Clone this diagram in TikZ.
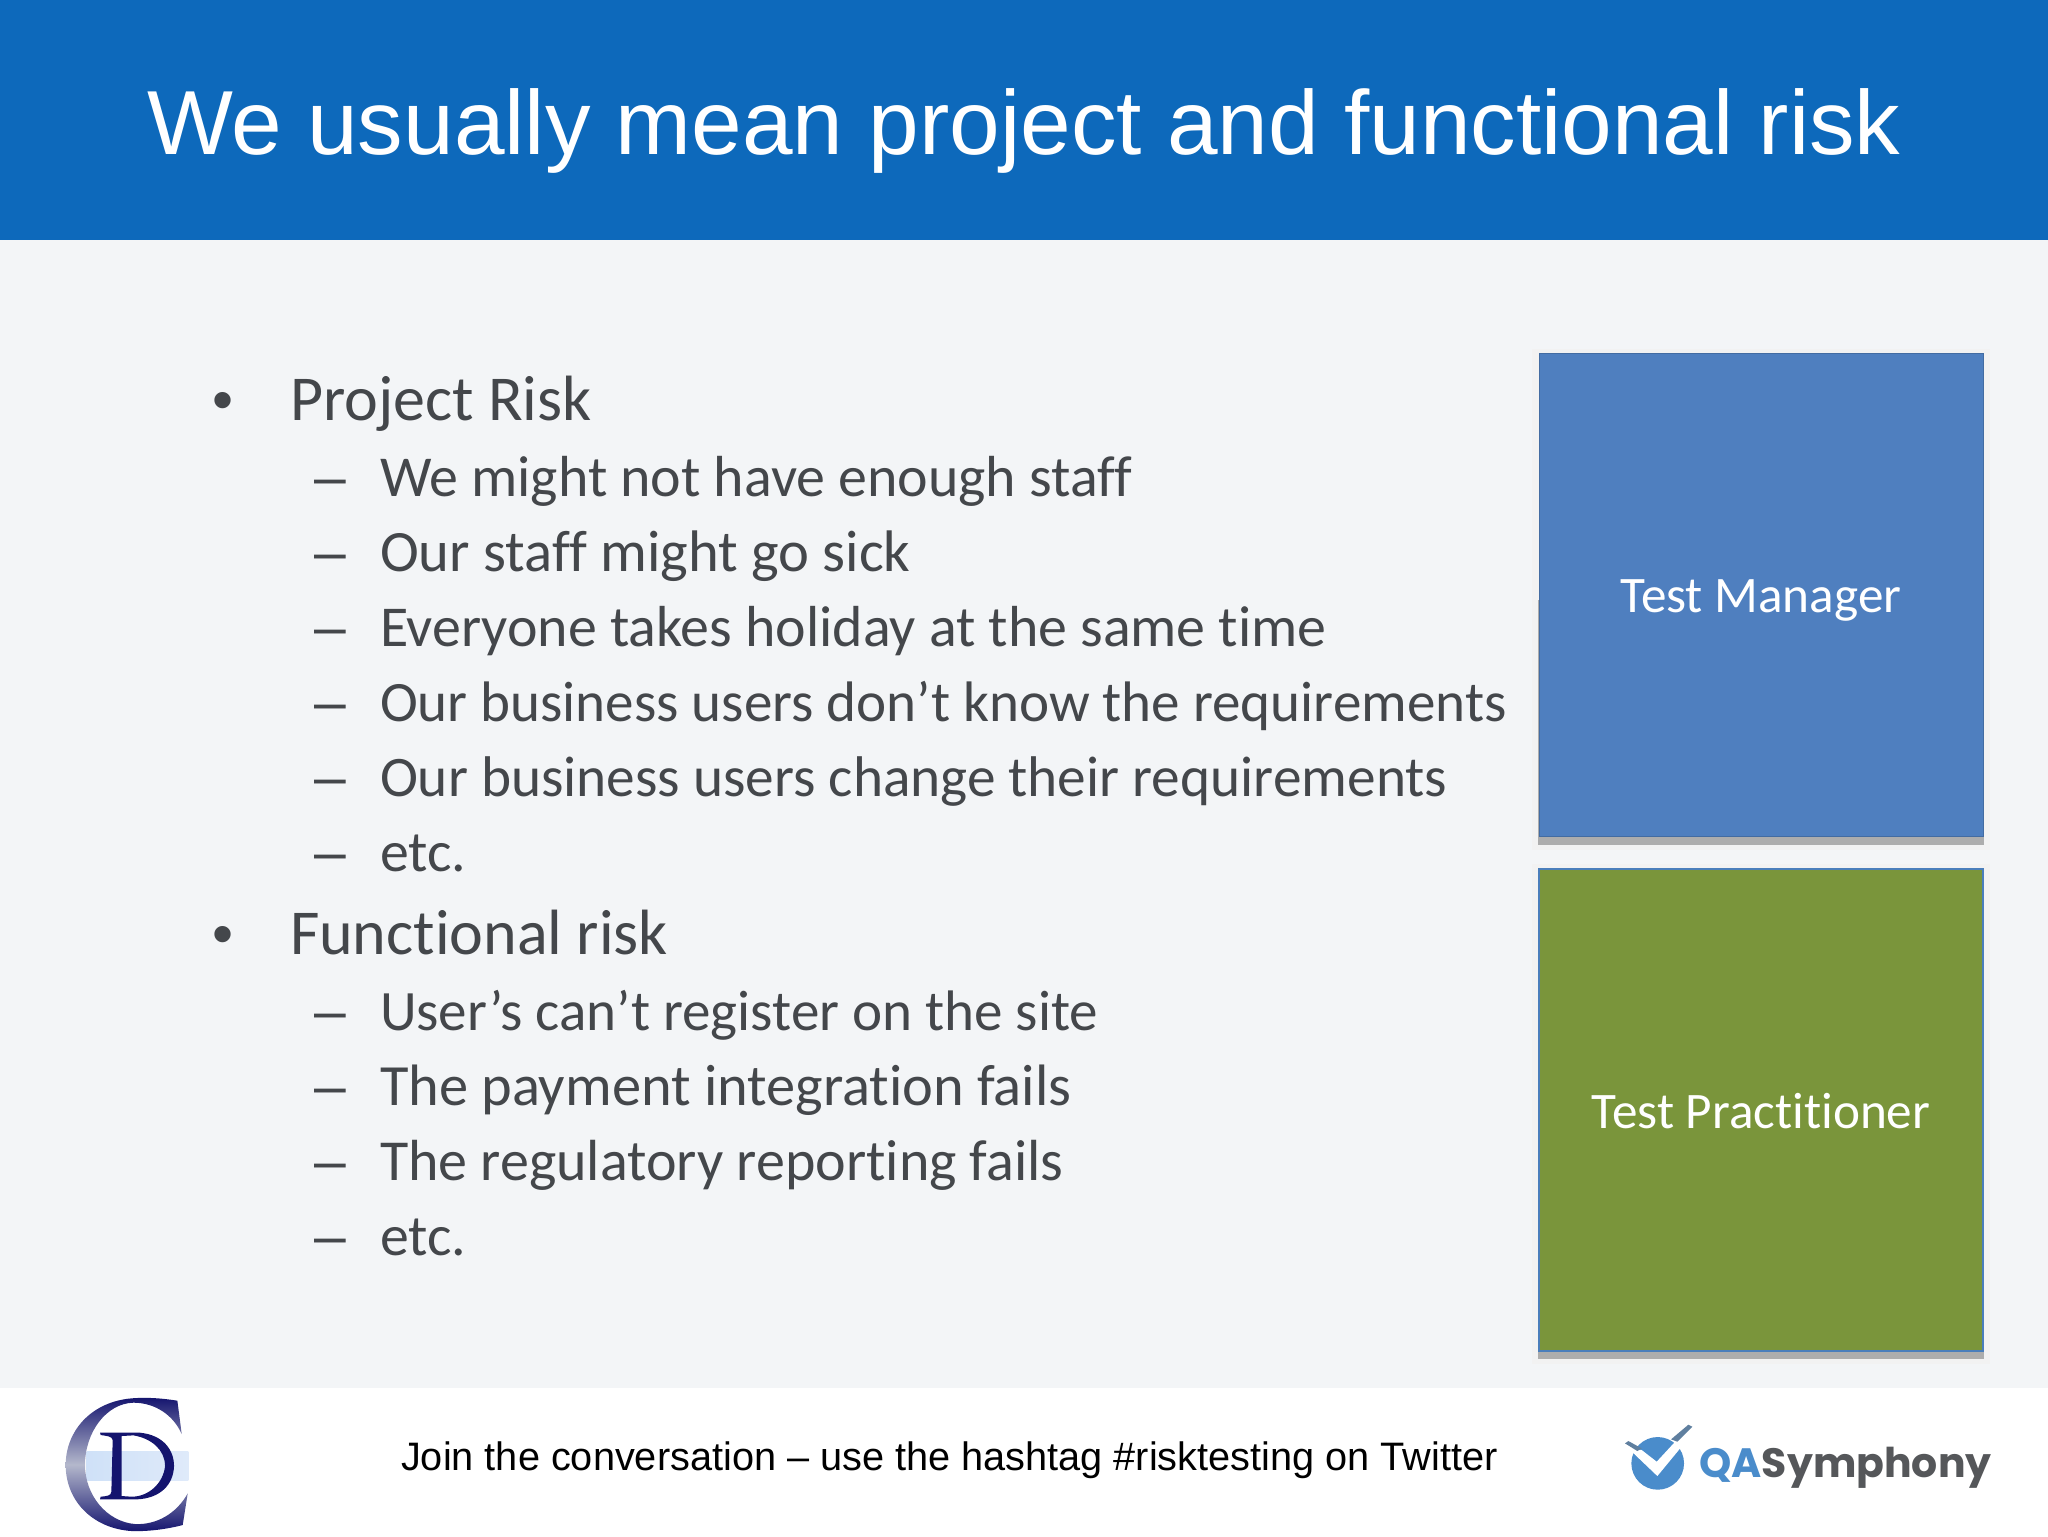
\documentclass[tikz,border=0pt]{standalone}
\usepackage{fontspec}
\setmainfont[Ligatures=NoCommon]{Carlito}
\newfontfamily\arialf{Liberation Sans}
\newfontfamily\logof{Poppins}
\definecolor{headblue}{HTML}{0D69BB}
\definecolor{pagebg}{HTML}{F3F5F7}
\definecolor{bodytxt}{HTML}{44474B}
\definecolor{mgrblue}{HTML}{4F7FBF}
\definecolor{pracgreen}{HTML}{7A953B}
\definecolor{edgeblue}{HTML}{4A7EBB}
\definecolor{navy}{HTML}{14146E}
\definecolor{silver}{HTML}{B4B8CC}
\definecolor{bandl}{HTML}{CFE1F8}
\definecolor{bandr}{HTML}{DFEAFA}
\definecolor{logoblue}{HTML}{4A8CCB}
\definecolor{logotick}{HTML}{5F7F9F}
\definecolor{logogrey}{HTML}{55575A}
\tikzset{
  lvlone/.style={anchor=base west,inner sep=0pt,outer sep=0pt,text=bodytxt,font=\fontsize{32}{36}\selectfont},
  lvltwo/.style={anchor=base west,inner sep=0pt,outer sep=0pt,text=bodytxt},
  markone/.style={anchor=base west,inner sep=0pt,outer sep=0pt,text=bodytxt,font=\arialf\fontsize{30}{36}\selectfont},
  marktwo/.style={anchor=base west,inner sep=0pt,outer sep=0pt,text=bodytxt,font=\arialf\fontsize{28.5}{34}\selectfont},
  rolebox/.style={inner sep=0pt,outer sep=0pt,text=white,font=\fontsize{25.6}{28}\selectfont,minimum width=222pt,text height=18pt,text depth=0pt},
  glow/.style={fill=black!5},
  castshadow/.style={fill=black!32},
}
\begin{document}
\begin{tikzpicture}[x=0.5pt,y=-0.5pt]
\useasboundingbox (0,0) rectangle (2048,1536);
\fill[white] (0,0) rectangle (2048,1536);
\fill[pagebg] (0,240) rectangle (2048,1388);
\fill[headblue] (0,0) rectangle (2048,240);
\node[anchor=base,inner sep=0pt,text=white,font=\arialf\fontsize{45.5}{54}\selectfont] (title) at (1024,155) {We usually mean project and functional risk};
% level one and two lines
\node[markone] (m1) at (212,420) {•};
\node[lvlone] (t1) at (290,420) {Project Risk};
\foreach \n/\yy/\fs/\tx in {a/496/28.95/We might not have enough staff,b/571/29.3/Our staff might go sick,c/646/28.93/Everyone takes holiday at the same time,d/721/28.55/Our business users don’t know the requirements,e/796/28.67/Our business users change their requirements,f/871/28.9/etc.}{
  \node[marktwo] (d\n) at (314,\yy) {–};
  \node[lvltwo] (s\n) at (380,\yy) {\fontsize{\fs}{34}\selectfont\tx};
}
\node[markone] (m2) at (212,954) {•};
\node[lvlone] (t2) at (290,954) {Functional risk};
\foreach \n/\yy/\fs/\tx in {g/1030/28.55/User’s can’t register on the site,h/1105/29.2/The payment integration fails,i/1180/29.0/The regulatory reporting fails,j/1255/28.9/etc.}{
  \node[marktwo] (d\n) at (314,\yy) {–};
  \node[lvltwo] (s\n) at (380,\yy) {\fontsize{\fs}{34}\selectfont\tx};
}
% role boxes with shadows
\fill[glow] (1532,349) rectangle (1990,850);
\fill[castshadow] (1538,600) rectangle (1984,845);
\node[rolebox,fill=mgrblue,draw=mgrblue!85!black,line width=.5pt,minimum height=241.5pt] (mgr) at (1761,594.5) {Test Manager};
\fill[glow] (1532,864) rectangle (1990,1364);
\fill[castshadow] (1538,1100) rectangle (1984,1359);
\node[rolebox,fill=pracgreen,draw=edgeblue,line width=1pt,minimum height=241pt] (prac) at (1761,1110) {Test Practitioner};
% footer
\node[anchor=base,inner sep=0pt,text=black,font=\arialf\fontsize{19.85}{24}\selectfont] (foot) at (949.5,1470.5) {Join the conversation – use the hashtag \#risktesting on Twitter};
% CD logo
\begin{scope}[shift={(0,1360)},x=0.1667pt,y=-0.1667pt]
\shade[left color=bandl,right color=bandr] (260,275) rectangle (565,362);
\shade[top color=navy,bottom color=navy,middle color=silver,even odd rule]
  (532,122) .. controls (470,112) and (420,112) .. (385,116)
  .. controls (270,130) and (197,215) .. (197,315)
  .. controls (197,420) and (275,505) .. (395,513)
  .. controls (450,515) and (510,505) .. (548,495)
  -- (563,400)
  .. controls (530,460) and (470,495) .. (405,492)
  .. controls (320,485) and (255,405) .. (255,315)
  .. controls (255,215) and (320,130) .. (400,128)
  .. controls (465,128) and (520,165) .. (545,222) -- cycle;
\fill[navy,even odd rule]
  (300,218) -- (420,218) .. controls (490,225) and (522,270) .. (522,318)
  .. controls (520,375) and (480,415) .. (410,418) -- (300,418) -- (302,410)
  .. controls (320,408) and (333,408) .. (334,395) -- (338,240)
  .. controls (336,228) and (320,228) .. (302,225) -- cycle
  (365,228) -- (400,226) .. controls (455,235) and (495,270) .. (495,318)
  .. controls (490,370) and (445,410) .. (395,410) -- (365,408) -- cycle;
\end{scope}
% QASymphony logo
\begin{scope}[shift={(1560,1340)},x=0.1667pt,y=-0.1667pt]
\fill[logoblue] (293,370) circle[radius=79];
\fill[white] (205,325) -- (245,330) -- (290,365) -- (350,300) -- (385,295) -- (292,408) -- cycle;
\fill[logotick] (195,310) -- (205,303) -- (245,325) -- (232,333) -- cycle;
\fill[logotick] (333,298) -- (385,254) -- (397,260) -- (352,305) -- cycle;
\end{scope}
\node[anchor=base west,inner sep=0pt,font=\logof\bfseries\fontsize{20.5}{26}\selectfont] (qa) at (1699,1477) {\textcolor{logoblue}{QA}\textcolor{logogrey}{Symphony}};
\end{tikzpicture}
\end{document}
